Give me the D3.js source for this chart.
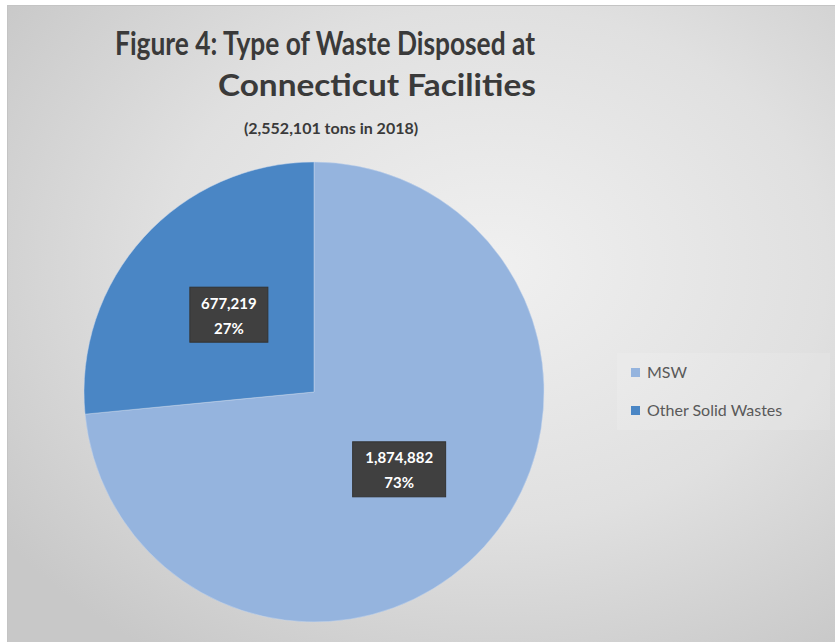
<!DOCTYPE html>
<html><head><meta charset="utf-8">
<script src="https://cdn.jsdelivr.net/npm/d3@7"></script>
<style>html,body{margin:0;padding:0;background:#fff;}svg{display:block;}</style>
</head><body>
<svg id="chart" width="835" height="642"></svg>
<script>
const titleLines = ["Figure 4: Type of Waste Disposed at", "Connecticut Facilities"];
const subtitle = "(2,552,101 tons in 2018)";
const categories = ["MSW", "Other Solid Wastes"];
const values = [1874882, 677219];
const colors = ["#95B4DE", "#4A86C5"];

const svg = d3.select("#chart");
const defs = svg.append("defs");
const grad = defs.append("radialGradient").attr("id","bg")
  .attr("cx","58%").attr("cy","40%").attr("r","72%");
grad.append("stop").attr("offset","0%").attr("stop-color","#f0f0f0");
grad.append("stop").attr("offset","55%").attr("stop-color","#e0e0e0");
grad.append("stop").attr("offset","100%").attr("stop-color","#c8c8c8");

svg.append("rect").attr("x",7.5).attr("y",5.5).attr("width",840).attr("height",650)
  .attr("fill","url(#bg)").attr("stroke","#c4c4c4");

// Title
const font = "Lato, 'Open Sans', sans-serif";
function fitText(sel, target) {
  const w = sel.node().getComputedTextLength();
  if (w > 0 && Math.abs(w - target) / target > 0.02) {
    sel.attr("textLength", target).attr("lengthAdjust","spacingAndGlyphs");
  }
}
const t1 = svg.append("text").attr("x",325).attr("y",55).attr("text-anchor","middle")
  .attr("font-family",font).attr("font-weight","bold").attr("font-size",32)
  .attr("fill","#3a3a3a").text(titleLines[0]);
const t2 = svg.append("text").attr("x",377).attr("y",96).attr("text-anchor","middle")
  .attr("font-family",font).attr("font-weight","bold").attr("font-size",31)
  .attr("fill","#3a3a3a").text(titleLines[1]);
fitText(t1, 420); fitText(t2, 318);
svg.append("text").attr("x",331).attr("y",134).attr("text-anchor","middle")
  .attr("font-family",font).attr("font-weight","bold").attr("font-size",16)
  .attr("fill","#3a3a3a").text(subtitle);

// Pie
const cx = 314, cy = 392, R = 230;
const total = d3.sum(values);
const pie = d3.pie().sort(null).value(d => d)(values);
const arc = d3.arc().innerRadius(0).outerRadius(R);
const g = svg.append("g").attr("transform",`translate(${cx},${cy})`);
g.selectAll("path.slice").data(pie).join("path").attr("class","slice")
  .attr("d",arc).attr("fill",(d,i)=>colors[i])
  .attr("stroke","#c9d8ec").attr("stroke-width",0.8).attr("stroke-opacity",0.6);

const fmtN = d3.format(",");
const fmtP = d3.format(".0%");
const lab = g.selectAll("g.lab").data(pie).join("g").attr("class","lab")
  .attr("transform",d=>{const c=arc.centroid(d);return `translate(${c[0]},${c[1]})`;});
lab.each(function(d,i){
  const sel = d3.select(this);
  const a = fmtN(d.data), b = fmtP(d.data/total);
  const w = i===0 ? 93 : 78, h = 55;
  sel.append("rect").attr("x",-w/2).attr("y",-h/2).attr("width",w).attr("height",h)
    .attr("fill","#404040").attr("stroke","#333").attr("stroke-width",1);
  sel.append("text").attr("y",-6).attr("text-anchor","middle")
    .attr("font-family",font).attr("font-weight","bold").attr("font-size",15)
    .attr("fill","#ffffff").text(a);
  sel.append("text").attr("y",19).attr("text-anchor","middle")
    .attr("font-family",font).attr("font-weight","bold").attr("font-size",15)
    .attr("fill","#ffffff").text(b);
});

// Legend
const leg = svg.append("g");
leg.append("rect").attr("x",617).attr("y",353).attr("width",213).attr("height",77)
  .attr("fill","#ffffff").attr("fill-opacity",0.12);
const li = leg.selectAll("g.li").data(categories).join("g").attr("class","li")
  .attr("transform",(d,i)=>`translate(631,${368+i*38})`);
li.append("rect").attr("width",9).attr("height",9).attr("fill",(d,i)=>colors[i]);
li.append("text").attr("x",16).attr("y",10)
  .attr("font-family",font).attr("font-size",16).attr("fill","#595959").text(d=>d);
</script>
</body></html>
